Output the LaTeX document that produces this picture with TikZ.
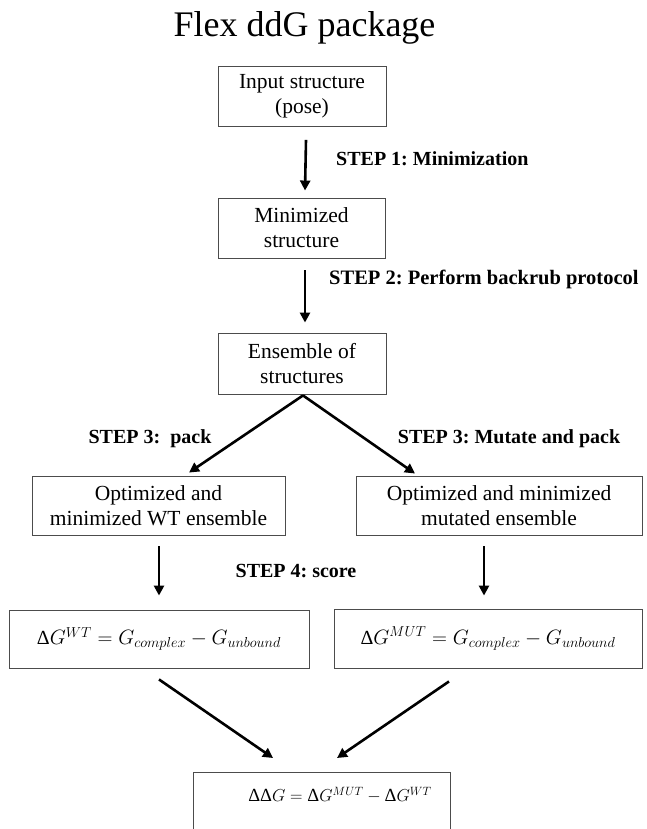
\documentclass[tikz,border=0pt]{standalone}
\usepackage[no-math]{fontspec}
\setmainfont{Liberation Serif}
\usetikzlibrary{arrows.meta}
\newcommand{\Dlt}{\mbox{Δ}}
\begin{document}
\frenchspacing
\begin{tikzpicture}[x=1pt,y=-1pt,
  box/.style={draw=black!70, line width=0.9pt, inner sep=0pt, align=center,
    font=\fontsize{21.5}{25}\selectfont},
  eqbox/.style={draw=black!70, line width=0.9pt, inner sep=0pt,
    font=\fontsize{20}{24}\selectfont},
  lab/.style={font=\fontsize{20}{24}\selectfont\bfseries, anchor=base, inner sep=0pt},
  arr/.style={line width=2.6pt, -{Triangle[length=10pt,width=10pt]}}
]
\useasboundingbox (0,0) rectangle (646,829);
\clip (0,0) rectangle (646,829);
\node[font=\fontsize{36}{40}\selectfont, anchor=base, inner sep=0pt] (title) at (304.5,37) {Flex ddG package};

\node[box, minimum width=168pt, minimum height=60pt] (b1) at (302,96.5) {Input structure\\(pose)};
\node[box, minimum width=167pt, minimum height=60pt] (b2) at (301.5,228) {Minimized\\structure};
\node[box, minimum width=168pt, minimum height=61pt] (b3) at (302,363.5) {Ensemble of\\structures};
\node[box, minimum width=253pt, minimum height=59pt] (b4) at (158.5,505.5) {Optimized and\\minimized WT ensemble};
\node[box, minimum width=286pt, minimum height=59pt] (b5) at (499,505.5) {Optimized and minimized\\mutated ensemble};
\node[eqbox, minimum width=300pt, minimum height=58pt] (b6) at (159,639) {$\Dlt G^{WT} = G_{complex} - G_{unbound}$};
\node[eqbox, minimum width=308pt, minimum height=59pt] (b7) at (488,638.5) {$\Dlt G^{MUT} = G_{complex} - G_{unbound}$};
\node[eqbox, minimum width=257pt, minimum height=90pt, anchor=north] (b8) at (321.5,772) {};
\node[font=\fontsize{18.5}{22}\selectfont, inner sep=0pt] (f8) at (340,795) {$\Dlt\Dlt G = \Dlt G^{MUT} - \Dlt G^{WT}$};

\node[lab, anchor=base west] (s1) at (336,165) {STEP 1: Minimization};
\node[lab, anchor=base west, font=\fontsize{20.5}{24}\selectfont\bfseries] (s2) at (329,284) {STEP 2: Perform backrub protocol};
\node[lab] (s3a) at (150,443) {STEP 3:\ \ pack};
\node[lab] (s3b) at (509,443) {STEP 3: Mutate and pack};
\node[lab] (s4) at (296,577) {STEP 4: score};

\draw[arr] ([xshift=4pt,yshift=-13pt]b1.south) -- ([xshift=3.5pt,yshift=7pt]b2.north);
\draw[arr] ([xshift=3.5pt,yshift=-12pt]b2.south) -- ([xshift=3pt,yshift=10pt]b3.north);
\draw[arr] ([xshift=1pt,yshift=-1pt]b3.south) -- ([xshift=30.5pt,yshift=3pt]b4.north);
\draw[arr] ([xshift=1pt,yshift=-1pt]b3.south) -- ([xshift=-84pt,yshift=2pt]b5.north);
\draw[arr] ([xshift=0.5pt,yshift=-11pt]b4.south) -- ([yshift=14pt]b6.north);
\draw[arr] ([xshift=-15pt,yshift=-11pt]b5.south) -- ([xshift=-4pt,yshift=13pt]b7.north);
\draw[arr] ([yshift=-11pt]b6.south) -- ([xshift=-48.5pt,yshift=14pt]b8.north);
\draw[arr] ([xshift=-39pt,yshift=-13pt]b7.south) -- ([xshift=15.5pt,yshift=14pt]b8.north);
\end{tikzpicture}
\end{document}
